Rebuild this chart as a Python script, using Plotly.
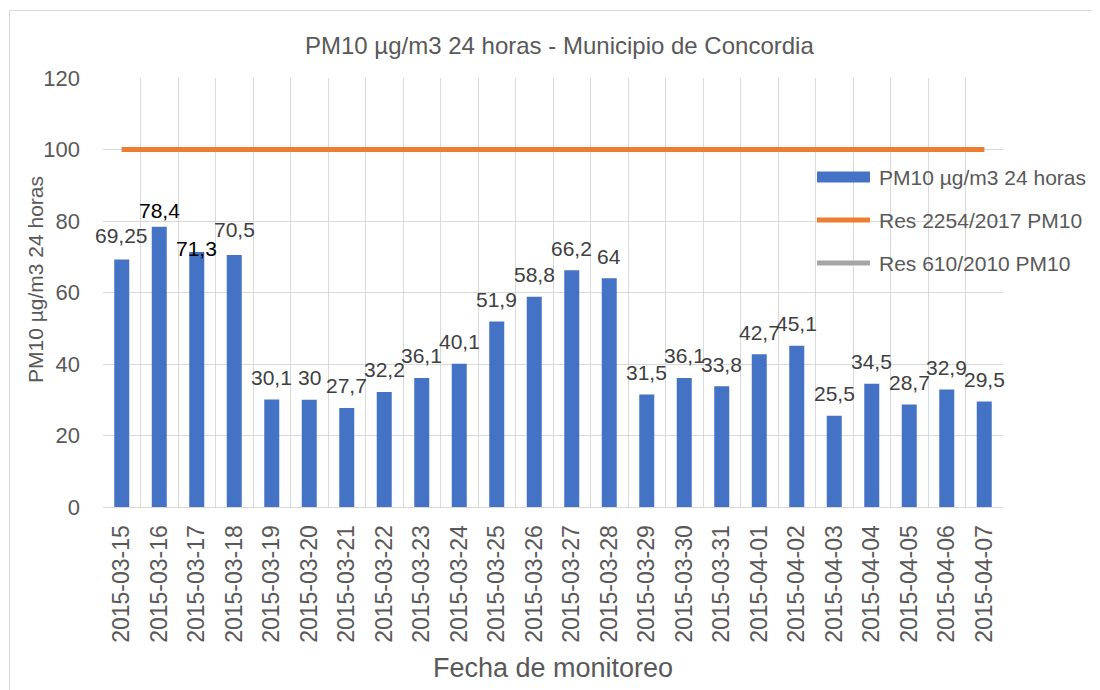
import plotly.graph_objects as go

# ---------------- data ----------------
fechas = ["2015-03-15", "2015-03-16", "2015-03-17", "2015-03-18", "2015-03-19",
          "2015-03-20", "2015-03-21", "2015-03-22", "2015-03-23", "2015-03-24",
          "2015-03-25", "2015-03-26", "2015-03-27", "2015-03-28", "2015-03-29",
          "2015-03-30", "2015-03-31", "2015-04-01", "2015-04-02", "2015-04-03",
          "2015-04-04", "2015-04-05", "2015-04-06", "2015-04-07"]
pm10 = [69.25, 78.4, 71.3, 70.5, 30.1, 30, 27.7, 32.2, 36.1, 40.1,
        51.9, 58.8, 66.2, 64, 31.5, 36.1, 33.8, 42.7, 45.1, 25.5,
        34.5, 28.7, 32.9, 29.5]
res_2254 = [100] * len(fechas)
res_610 = [100] * len(fechas)

series_names = ["PM10 µg/m3 24 horas", "Res 2254/2017 PM10", "Res 610/2010 PM10"]
title_text = "PM10 µg/m3 24 horas - Municipio de Concordia"
y_title = "PM10 µg/m3 24 horas"
x_title = "Fecha de monitoreo"
y_ticks = [0, 20, 40, 60, 80, 100, 120]

# ---------------- styles ----------------
BLUE = "#4472C4"
ORANGE = "#ED7D31"
GRAY = "#A5A5A5"
GRID = "#D9D9D9"
TXT = "#595959"
LBL = "#404040"
FONT = "Liberation Sans, Arial, sans-serif"

# label vertical offsets (px) and colours (manual Excel label placement)
label_shift = [24, 16, 4, 25] + [22] * 20
label_color = [LBL, "#000000", "#000000"] + [LBL] * 21

# page pixel geometry (page has an 8px body margin)
OFF = 8
W, H = 1100, 690
L, R, T, B = 103, 1003, 78, 507   # plot area in page pixels


def px(x):
    return (x - L) / (R - L)


def py(y):
    return (B - y) / (B - T)


fig = go.Figure()
fig.add_trace(go.Bar(x=fechas, y=pm10, marker=dict(color=BLUE, line=dict(width=0)),
                     name=series_names[0], showlegend=False))
fig.add_trace(go.Scatter(x=fechas, y=res_610, mode="lines", line=dict(color=GRAY, width=5),
                         name=series_names[2], showlegend=False))
fig.add_trace(go.Scatter(x=fechas, y=res_2254, mode="lines", line=dict(color=ORANGE, width=5),
                         name=series_names[1], showlegend=False))

annotations = []
for f, v, s, c in zip(fechas, pm10, label_shift, label_color):
    annotations.append(dict(x=f, y=v, xref="x", yref="y", text=f"{v:g}".replace(".", ","),
                            showarrow=False, yanchor="middle", yshift=s,
                            font=dict(family=FONT, size=21, color=c)))

# title & axis titles
annotations.append(dict(x=px(559), y=py(45), xref="paper", yref="paper", text=title_text,
                        showarrow=False, xanchor="center", yanchor="middle",
                        font=dict(family=FONT, size=24, color=TXT)))
annotations.append(dict(x=px(35), y=py(280), xref="paper", yref="paper", text=y_title,
                        showarrow=False, xanchor="center", yanchor="middle", textangle=-90,
                        font=dict(family=FONT, size=21, color=TXT)))
annotations.append(dict(x=px(553), y=py(668), xref="paper", yref="paper", text=x_title,
                        showarrow=False, xanchor="center", yanchor="middle",
                        font=dict(family=FONT, size=27, color=TXT)))

# manual legend
shapes = []
leg_y = [177, 220, 263]
leg_col = [BLUE, ORANGE, GRAY]
leg_w = [11, 5, 5]
for name, yy, col, lw in zip(series_names, leg_y, leg_col, leg_w):
    shapes.append(dict(type="line", xref="paper", yref="paper", x0=px(817), x1=px(870),
                       y0=py(yy), y1=py(yy), line=dict(color=col, width=lw)))
    annotations.append(dict(x=px(877), y=py(yy), xref="paper", yref="paper", text=name,
                            showarrow=False, xanchor="left", yanchor="middle",
                            font=dict(family=FONT, size=21, color=TXT)))

# outer chart border
shapes.append(dict(type="rect", xref="paper", yref="paper", x0=px(9.5), x1=px(1120),
                   y0=py(720), y1=py(10.5), line=dict(color=GRID, width=1), layer="below"))

fig.update_layout(
    width=W, height=H,
    margin=dict(l=L - OFF, r=W - (R - OFF), t=T - OFF, b=H - (B - OFF)),
    paper_bgcolor="white", plot_bgcolor="white",
    bargap=0.6,
    showlegend=False,
    font=dict(family=FONT, color=TXT),
    annotations=annotations,
    shapes=shapes,
    xaxis=dict(type="category", range=[-0.5, len(fechas) - 0.5], tickson="boundaries",
               showgrid=True, gridcolor=GRID, gridwidth=1,
               showline=True, linecolor=GRID, linewidth=1,
               ticks="", tickangle=-90, tickfont=dict(family=FONT, size=23, color=TXT),
               ticklabelstandoff=8),
    yaxis=dict(range=[0, 120], tickvals=y_ticks, showgrid=True, gridcolor=GRID, gridwidth=1,
               zeroline=False, showline=False, ticks="",
               tickfont=dict(family=FONT, size=22, color=TXT), ticklabelstandoff=22),
)

fig.write_html("out.html")
